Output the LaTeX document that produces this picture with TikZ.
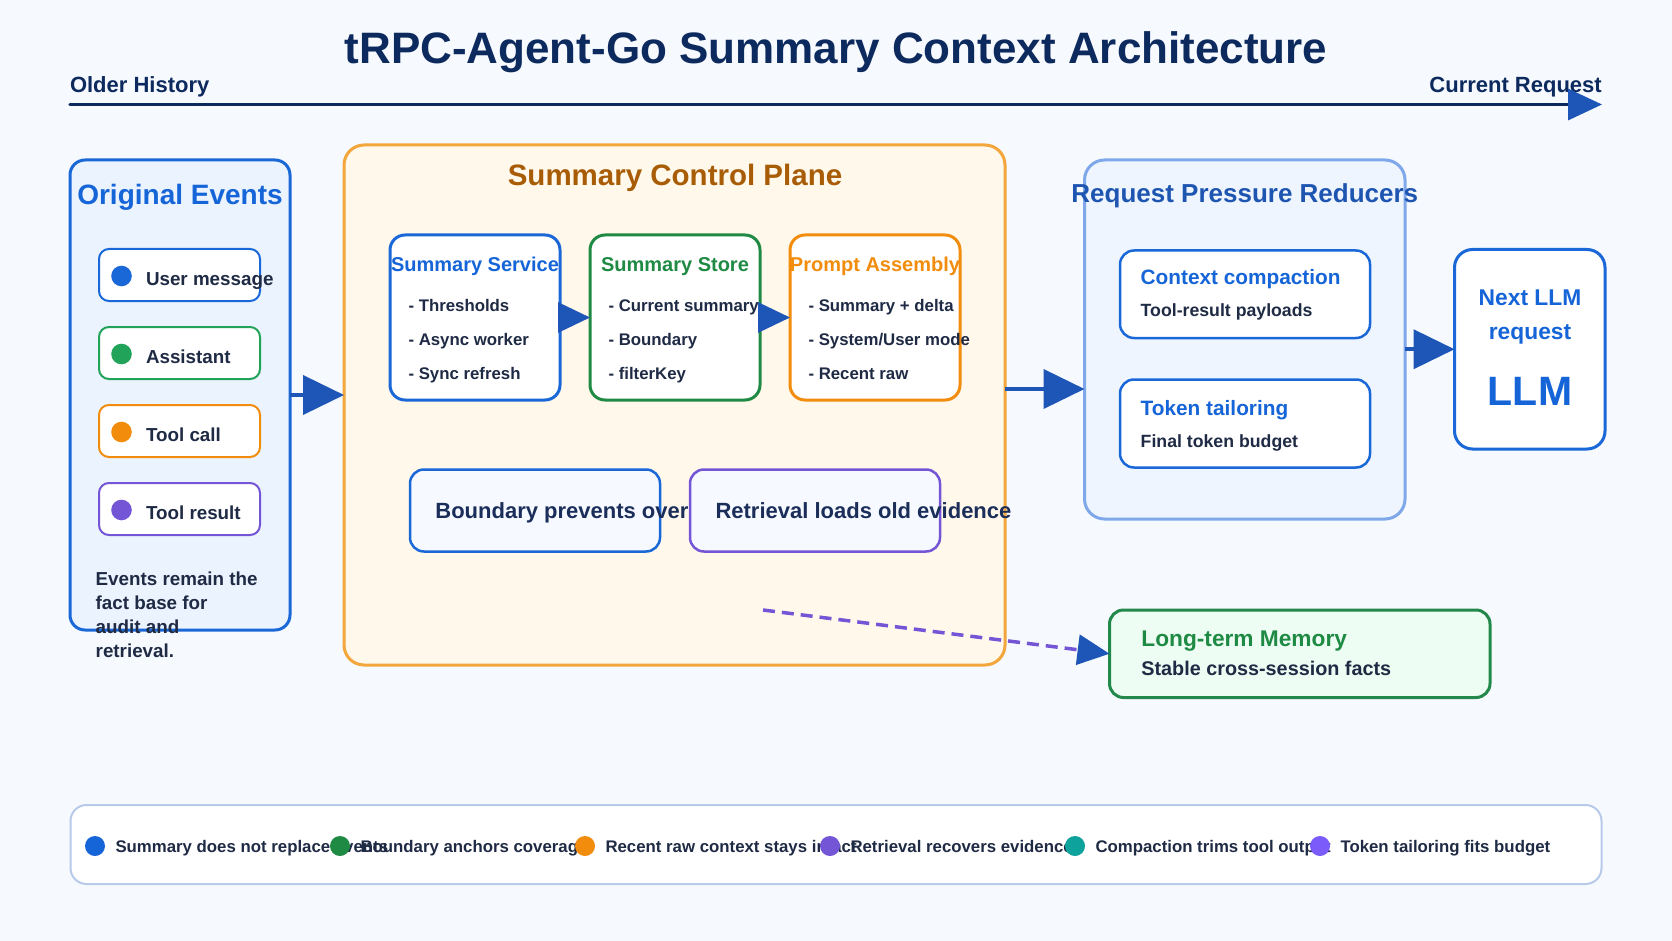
\documentclass[tikz,border=0pt]{standalone}
\usepackage{fontspec}
\setmainfont{Liberation Sans}
\usetikzlibrary{arrows.meta,calc}
\definecolor{bg}{HTML}{F6F9FE}
\definecolor{navy}{HTML}{0D2A5E}
\definecolor{dtext}{HTML}{1F2A44}
\definecolor{btext}{HTML}{1B2E5A}
\definecolor{blue1}{HTML}{1565D8}
\definecolor{bstroke}{HTML}{1A68D8}
\definecolor{arrowblue}{HTML}{1E56B8}
\definecolor{oefill}{HTML}{EBF3FE}
\definecolor{greenS}{HTML}{22A35A}
\definecolor{greenT}{HTML}{1F8A44}
\definecolor{orangeS}{HTML}{F28C0C}
\definecolor{purpleS}{HTML}{7355D6}
\definecolor{tealS}{HTML}{0EA29C}
\definecolor{violetS}{HTML}{7B5CFA}
\definecolor{scpfill}{HTML}{FFF8EB}
\definecolor{scpstroke}{HTML}{F3A63B}
\definecolor{scptitle}{HTML}{A85C05}
\definecolor{lightfill}{HTML}{F6F9FF}
\definecolor{rprfill}{HTML}{EEF5FF}
\definecolor{rprstroke}{HTML}{7EA8EA}
\definecolor{rprtitle}{HTML}{1D55B0}
\definecolor{ltmfill}{HTML}{EEFDF3}
\definecolor{ltmstroke}{HTML}{23894A}
\definecolor{legstroke}{HTML}{B8CAEA}
\newcommand{\fsz}[1]{\fontsize{#1}{#1}\selectfont\bfseries}
\begin{document}
\begin{tikzpicture}[x=1pt,y=-1pt,
  panel/.style={anchor=north west, inner sep=0pt, outer sep=0pt},
  lbl/.style={anchor=base west, inner sep=0pt, outer sep=0pt},
  clbl/.style={anchor=base, inner sep=0pt, outer sep=0pt},
  dot/.style={circle, inner sep=0pt, minimum size=20.6pt},
  bigarrow/.style={arrowblue, line width=4pt, -{Triangle[length=41pt,width=39pt]}},
  smallarrow/.style={arrowblue, line width=3pt, -{Triangle[length=32pt,width=30pt]}},
  item/.style={panel, draw, fill=white, line width=2pt, rounded corners=10pt, minimum width=161pt, minimum height=52pt},
  inner/.style={panel, draw, fill=white, line width=3pt, rounded corners=15pt, minimum width=170pt, minimum height=165pt},
  sub/.style={panel, fill=white, line width=2.5pt, rounded corners=14pt, minimum width=250pt, minimum height=88pt}
]
\useasboundingbox (0,0) rectangle (1672,941);
\fill[bg] (0,0) rectangle (1672,941);

% title and timeline
\node[clbl, text=navy] (title) at (836,63.5) {\fsz{44}tRPC-Agent-Go Summary Context Architecture};
\node[lbl, text=navy] (older) at (70,93) {\fsz{22}Older History};
\node[anchor=base east, inner sep=0pt, text=navy] (current) at (1602,93) {\fsz{22}Current Request};
\coordinate (tl0) at (70,104.5);
\coordinate (tl1) at (1602,104.5);
\draw[navy, line width=3.5pt, line cap=round, -{Triangle[length=34pt,width=31pt,color=arrowblue]}] (tl0) -- (tl1);

% Original events
\node[panel, draw=bstroke, fill=oefill, line width=3pt, rounded corners=15pt, minimum width=220pt, minimum height=470pt] (oe) at (70,160) {};
\node[clbl, text=blue1] (oet) at (180,205) {\fsz{28}Original Events};
\node[item, draw=bstroke] (ev1) at (99,249) {};
\node[item, draw=greenS] (ev2) at (99,327) {};
\node[item, draw=orangeS] (ev3) at (99,405) {};
\node[item, draw=purpleS] (ev4) at (99,483) {};
\node[dot, fill=bstroke] (d1) at (121.5,276) {};
\node[dot, fill=greenS] (d2) at (121.5,354) {};
\node[dot, fill=orangeS] (d3) at (121.5,432) {};
\node[dot, fill=purpleS] (d4) at (121.5,510) {};
\node[lbl, text=dtext] (t1) at (146,285) {\fsz{18.8}User message};
\node[lbl, text=dtext] (t2) at (146,363) {\fsz{18.8}Assistant};
\node[lbl, text=dtext] (t3) at (146,441) {\fsz{18.8}Tool call};
\node[lbl, text=dtext] (t4) at (146,519) {\fsz{18.8}Tool result};
\node[lbl, text=dtext] (f1) at (95.7,585) {\fsz{18.8}Events remain the};
\node[lbl, text=dtext] (f2) at (95.7,609) {\fsz{18.8}fact base for};
\node[lbl, text=dtext] (f3) at (95.7,633) {\fsz{18.8}audit and};
\node[lbl, text=dtext] (f4) at (95.7,657) {\fsz{18.8}retrieval.};

% Summary control plane
\node[panel, draw=scpstroke, fill=scpfill, line width=3pt, rounded corners=20pt, minimum width=661pt, minimum height=520pt] (scp) at (344,145) {};
\node[clbl, text=scptitle] (scpt) at (675,185.5) {\fsz{29.5}Summary Control Plane};
\node[inner, draw=bstroke] (ss) at (390,235) {};
\node[inner, draw=greenT] (st) at (590,235) {};
\node[inner, draw=orangeS] (pa) at (790,235) {};
\node[clbl, text=blue1] (sst) at (475,272) {\fsz{20}Summary Service};
\node[clbl, text=greenT] (stt) at (675,272) {\fsz{20}Summary Store};
\node[clbl, text=orangeS] (pat) at (875,272) {\fsz{20}Prompt Assembly};
\node[lbl, text=dtext] (s1) at (408.5,311) {\fsz{16.8}- Thresholds};
\node[lbl, text=dtext] (s2) at (408.5,345) {\fsz{16.8}- Async worker};
\node[lbl, text=dtext] (s3) at (408.5,379) {\fsz{16.8}- Sync refresh};
\node[lbl, text=dtext] (r1) at (608.5,311) {\fsz{16.8}- Current summary};
\node[lbl, text=dtext] (r2) at (608.5,345) {\fsz{16.8}- Boundary};
\node[lbl, text=dtext] (r3) at (608.5,379) {\fsz{16.8}- filterKey};
\node[lbl, text=dtext] (p1) at (808.5,311) {\fsz{16.8}- Summary + delta};
\node[lbl, text=dtext] (p2) at (808.5,345) {\fsz{16.8}- System/User mode};
\node[lbl, text=dtext] (p3) at (808.5,379) {\fsz{16.8}- Recent raw};
\draw[smallarrow] (ss.east) -- (st.west);
\draw[smallarrow] (st.east) -- (pa.west);
\node[panel, draw=bstroke, fill=lightfill, line width=2.5pt, rounded corners=14pt, minimum width=250pt, minimum height=82pt] (bp) at (410,469.5) {};
\node[panel, draw=purpleS, fill=lightfill, line width=2.5pt, rounded corners=14pt, minimum width=250pt, minimum height=82pt] (rl) at (690,469.5) {};

% Request pressure reducers
\node[panel, draw=rprstroke, fill=rprfill, line width=3pt, rounded corners=20pt, minimum width=320.5pt, minimum height=359pt] (rpr) at (1084.5,160) {};
\node[clbl, text=rprtitle] (rprt) at (1244.8,203) {\fsz{26}Request Pressure Reducers};
\node[sub, draw=bstroke, minimum height=87.5pt] (cc) at (1120,250.5) {};
\node[sub, draw=bstroke] (tt) at (1120,379.5) {};
\node[lbl, text=blue1] (cct) at (1140.7,284.5) {\fsz{20.8}Context compaction};
\node[lbl, text=dtext] (ccs) at (1140.7,316.7) {\fsz{17.7}Tool-result payloads};
\node[lbl, text=blue1] (ttt) at (1140.7,415) {\fsz{20.8}Token tailoring};
\node[lbl, text=dtext] (tts) at (1140.7,447.2) {\fsz{17.7}Final token budget};

% LLM
\node[panel, draw=bstroke, fill=white, line width=3pt, rounded corners=18pt, minimum width=150.5pt, minimum height=199.5pt] (llm) at (1454.5,249.5) {};
\node[clbl, text=blue1] (llm1) at (1530,305.4) {\fsz{22.8}Next LLM};
\node[clbl, text=blue1] (llm2) at (1530,339.5) {\fsz{22.8}request};
\node[clbl, text=blue1] (llm3) at (1530,405.4) {\fsz{41}LLM};

% Long-term memory
\node[panel, draw=ltmstroke, fill=ltmfill, line width=3pt, rounded corners=14pt, minimum width=380.5pt, minimum height=87.5pt] (ltm) at (1109.5,610) {};
\node[lbl, text=greenT] (ltmt) at (1141.4,646) {\fsz{22.7}Long-term Memory};
\node[lbl, text=dtext] (ltms) at (1141.4,675.3) {\fsz{19.8}Stable cross-session facts};

% connectors
\draw[bigarrow] (oe.east) -- (oe.east -| scp.west);
\draw[bigarrow] (scp.east |- 0,389) -- (rpr.west |- 0,389);
\draw[bigarrow] (rpr.east |- llm.west) -- (llm.west);
\coordinate (dstart) at (763,610);
\draw[purpleS, line width=3.5pt, dash pattern=on 12pt off 7pt, -{Triangle[length=32pt,width=30pt,color=arrowblue]}] (dstart) -- (ltm.west);

% texts of the lower boxes (drawn on top)
\node[lbl, text=btext] (bpt) at (435.4,518.5) {\fsz{22}Boundary prevents over};
\node[lbl, text=btext] (rlt) at (715.5,518.5) {\fsz{22}Retrieval loads old evidence};

% legend
\node[panel, draw=legstroke, fill=white, line width=2pt, rounded corners=16pt, minimum width=1531pt, minimum height=79pt] (leg) at (70.5,805) {};
\node[dot, minimum size=20pt, fill=blue1] (l1) at (95,846) {};
\node[lbl, text=dtext] (lt1) at (115.5,852.3) {\fsz{16.8}Summary does not replace events};
\node[dot, minimum size=20pt, fill=greenT] (l2) at (340,846) {};
\node[lbl, text=dtext] (lt2) at (360.5,852.3) {\fsz{16.8}Boundary anchors coverage};
\node[dot, minimum size=20pt, fill=orangeS] (l3) at (585,846) {};
\node[lbl, text=dtext] (lt3) at (605.5,852.3) {\fsz{16.8}Recent raw context stays intact};
\node[dot, minimum size=20pt, fill=purpleS] (l4) at (830,846) {};
\node[lbl, text=dtext] (lt4) at (850.5,852.3) {\fsz{16.8}Retrieval recovers evidence};
\node[dot, minimum size=20pt, fill=tealS] (l5) at (1075,846) {};
\node[lbl, text=dtext] (lt5) at (1095.5,852.3) {\fsz{16.8}Compaction trims tool output};
\node[dot, minimum size=20pt, fill=violetS] (l6) at (1320,846) {};
\node[lbl, text=dtext] (lt6) at (1340.5,852.3) {\fsz{16.8}Token tailoring fits budget};
\end{tikzpicture}
\end{document}
